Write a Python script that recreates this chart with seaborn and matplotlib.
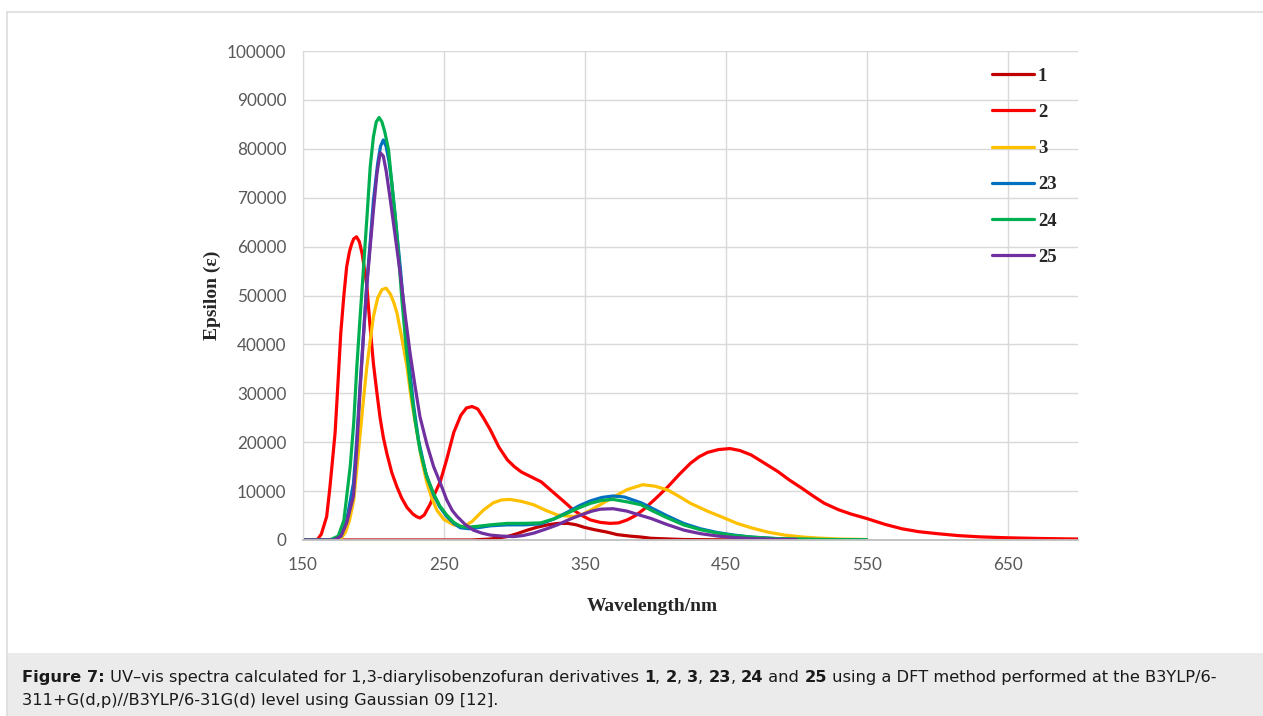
import matplotlib
matplotlib.use("Agg")
import matplotlib.pyplot as plt
import seaborn as sns
import pandas as pd
from matplotlib.patches import Rectangle
from matplotlib.lines import Line2D

# compound labels and colours
compounds = ["1", "2", "3", "23", "24", "25"]
colors = ["#C00000", "#FF0000", "#FFC000", "#0070C0", "#00B050", "#7030A0"]

# values (wavelength in nm, epsilon)
nm_1 = [150, 200, 250, 270, 283, 295, 302, 309, 316, 323.5, 331, 338, 344, 349.5,
        357, 366, 373, 382, 390, 397, 410, 420, 450, 500, 550]
eps_1 = [0, 0, 0, 0, 200, 700, 1300, 2000, 2600, 3100, 3400, 3400, 3100, 2600,
         2100, 1600, 1100, 800, 600, 350, 200, 100, 30, 0, 0]

nm_2 = [150, 160, 163, 166.8, 169, 171, 172.8, 174.8, 176.8, 179, 181, 183, 184.5,
        186, 188, 190, 192, 195.3, 197.5, 200, 202.5, 204.7, 207, 209.5, 213,
        216.6, 220, 223.7, 228, 230.5, 233, 236, 240, 244, 247.5, 252, 257, 262,
        266, 270, 274, 278, 283, 289, 295, 300, 305, 312, 319, 325, 331, 337, 342,
        348, 354, 361, 368, 374, 380, 386, 392, 400, 409, 417, 425, 431, 437, 445,
        453, 460, 468, 477, 487, 495, 504, 512, 520, 530, 539, 550, 563, 575, 587,
        600, 615, 630, 650, 675, 700]
eps_2 = [0, 0, 1200, 4800, 10500, 16500, 22000, 32000, 42300, 50000, 55900, 59000,
         60500, 61600, 62000, 61000, 58500, 52000, 44000, 36000, 30000, 25000,
         21000, 17700, 13800, 10900, 8600, 6700, 5300, 4800, 4500, 5100, 7200,
         9800, 12000, 16500, 22000, 25500, 27000, 27300, 26800, 25000, 22500,
         19000, 16400, 15000, 13900, 12900, 11900, 10400, 8900, 7400, 6100, 5000,
         4100, 3600, 3400, 3500, 4100, 5000, 6300, 8400, 10900, 13400, 15700,
         17000, 17900, 18500, 18700, 18300, 17400, 15800, 14000, 12300, 10600,
         9000, 7500, 6200, 5300, 4400, 3200, 2300, 1700, 1300, 900, 650, 450,
         300, 200]

nm_3 = [150, 176, 180, 183, 186, 188, 190.6, 193, 195.3, 198, 200, 203, 206, 209,
        212, 214.5, 216.7, 220, 223.8, 227, 231, 234.5, 238, 241.5, 245, 250,
        256.9, 264, 270, 278, 285, 291, 297, 305, 313.7, 322, 330.6, 342, 348,
        354, 362, 371, 380, 391, 400, 409, 417, 425, 437, 449, 458, 468, 480, 492,
        505, 515, 530, 550]
eps_3 = [0, 0, 1500, 4000, 8200, 14000, 21800, 29000, 35400, 41500, 45700, 49500,
         51200, 51500, 50300, 48500, 46400, 41500, 35400, 28500, 21800, 16000,
         11600, 8500, 6100, 4200, 3100, 2700, 3800, 6100, 7600, 8200, 8300, 7900,
         7200, 6100, 5100, 4800, 5200, 6100, 7400, 8900, 10300, 11300, 11000,
         10200, 8900, 7500, 5900, 4500, 3400, 2500, 1600, 1000, 600, 400, 200, 100]

nm_23 = [150, 172, 177, 181, 185.8, 188, 190.6, 193, 195.3, 198, 200, 203, 205,
         207, 209, 211, 213, 216, 219, 222, 225, 228.5, 232, 237, 242.7, 247, 252,
         257, 261.7, 268, 276, 283, 295, 307, 318.7, 328, 337.7, 346, 354, 362,
         370, 378, 390, 397, 408, 420, 432, 444.5, 456, 468, 485, 500, 525, 550]
eps_23 = [0, 0, 800, 4000, 11600, 20000, 32000, 42500, 52500, 62000, 69500, 77000,
          80500, 81800, 80500, 77500, 73000, 64500, 55900, 46000, 36800, 27500,
          20400, 13800, 9200, 6800, 4800, 3400, 2500, 2300, 2600, 2900, 3100,
          3100, 3300, 4300, 5700, 7000, 8000, 8700, 9000, 8800, 7600, 6600, 5000,
          3400, 2300, 1500, 1000, 600, 300, 150, 50, 0]

nm_24 = [150, 169, 175, 179, 183.5, 186, 188.2, 190.5, 193, 195.5, 197.7, 200,
         202, 204, 206, 208, 210.7, 213, 215.5, 218, 220.2, 223, 226, 229.5, 233,
         238, 242.7, 247, 252, 257, 261.7, 266.5, 274, 283, 295, 307, 318.7, 328,
         337.7, 346, 354, 362, 370, 380, 390, 397, 408, 420, 432, 444.5, 456, 468,
         485, 500, 525, 550]
eps_24 = [0, 0, 800, 4000, 15000, 24000, 35400, 45500, 55900, 66500, 76300, 82500,
          85500, 86400, 85500, 83500, 79800, 73000, 66100, 57500, 49100, 40000,
          32100, 24500, 18400, 12800, 9500, 7000, 5100, 3600, 2800, 2600, 2800,
          3100, 3400, 3400, 3500, 4300, 5500, 6600, 7500, 8100, 8300, 7800, 7200,
          6100, 4600, 3100, 2100, 1400, 900, 600, 300, 200, 100, 50]

nm_25 = [150, 172, 177, 181, 185.8, 188, 190.6, 193, 195.3, 198, 200, 202.5, 204.8,
         207, 209, 212, 215.5, 219, 222.5, 226, 229.5, 233, 238, 242.7, 247.5, 252,
         256, 259.4, 265, 271, 277, 283, 291, 299.5, 306, 313.7, 322, 330.6, 339,
         347, 355, 361, 370, 380, 390, 397, 408, 420.5, 432, 444.5, 456, 468, 485,
         500]
eps_25 = [0, 0, 800, 3500, 9000, 18000, 31000, 42000, 52000, 61000, 67500, 75000,
          79200, 78500, 75500, 69500, 62000, 54500, 46000, 38200, 31500, 25200,
          19500, 15000, 11600, 8200, 6000, 4800, 3200, 2000, 1400, 1000, 800, 700,
          900, 1400, 2200, 3100, 4200, 5100, 5900, 6300, 6400, 5900, 5000, 4400,
          3200, 2000, 1300, 800, 500, 300, 150, 100]

x_ticks = [150, 250, 350, 450, 550, 650]
y_ticks = [0, 10000, 20000, 30000, 40000, 50000, 60000, 70000, 80000, 90000, 100000]

series = {"1": (nm_1, eps_1), "2": (nm_2, eps_2), "3": (nm_3, eps_3),
          "23": (nm_23, eps_23), "24": (nm_24, eps_24), "25": (nm_25, eps_25)}
df = pd.concat([pd.DataFrame({"wavelength": x, "epsilon": y, "compound": k})
                for k, (x, y) in series.items()], ignore_index=True)

sns.set_style("whitegrid", {"grid.color": "#D9D9D9", "axes.edgecolor": "#D9D9D9"})
plt.rcParams["font.family"] = ["Lato", "DejaVu Sans"]

fig = plt.figure(figsize=(12.63, 7.16), dpi=100)
W, H = 1263, 716

# frame and caption box
fig.add_artist(Rectangle((7 / W, 0), 1 - 7 / W, 63 / H, transform=fig.transFigure,
                         facecolor="#EBEBEB", edgecolor="none", zorder=0))
fig.add_artist(Line2D([6.5 / W, 6.5 / W], [0, 1 - 11.5 / H], transform=fig.transFigure,
                      color="#DDDDDD", lw=1.2))
fig.add_artist(Line2D([6.5 / W, 1], [1 - 11.5 / H, 1 - 11.5 / H], transform=fig.transFigure,
                      color="#DDDDDD", lw=1.2))

ax = fig.add_axes([303 / W, 1 - 540 / H, 775 / W, 489 / H])
sns.lineplot(data=df, x="wavelength", y="epsilon", hue="compound", hue_order=compounds,
             palette=dict(zip(compounds, colors)), estimator=None, sort=False,
             linewidth=2.3, ax=ax)

ax.set_xlim(150, 700)
ax.set_ylim(0, 100000)
ax.set_xticks(x_ticks)
ax.set_yticks(y_ticks)
ax.set_xticklabels([str(v) for v in x_ticks])
ax.set_yticklabels([str(v) for v in y_ticks])
ax.tick_params(axis="y", length=0, pad=12, labelsize=12.3, labelcolor="#595959")
ax.tick_params(axis="x", length=0, pad=12, labelsize=12.3, labelcolor="#595959")
ax.grid(True, color="#D9D9D9", linewidth=1.0)
for side in ["top", "right"]:
    ax.spines[side].set_visible(False)
ax.spines["left"].set_color("#D9D9D9")
ax.spines["bottom"].set_color("#BFBFBF")
ax.spines["bottom"].set_linewidth(1.3)

serif_bold = dict(family="Liberation Serif", weight="bold", size=14)
ax.set_xlabel("Wavelength/nm", fontdict=serif_bold)
ax.set_ylabel("Epsilon (ε)", fontdict=serif_bold)
ax.xaxis.set_label_coords((652 - 303) / 775, -58 / 489)
ax.yaxis.set_label_coords((221 - 303) / 775, 0.5)

leg = ax.get_legend()
handles = leg.legend_handles
labels = [t.get_text() for t in leg.get_texts()]
ax.legend(handles, labels, loc="upper left", bbox_to_anchor=(992 / W, 1 - 67.5 / H),
          bbox_transform=fig.transFigure, frameon=False, borderpad=0, borderaxespad=0,
          handlelength=2.25, handletextpad=0.2, labelspacing=1.02,
          prop=dict(family="Liberation Serif", weight="bold", size=13.5))

# caption with bold parts
line1 = [("Figure 7:", "bold"),
         (" UV\u2013vis spectra calculated for 1,3-diarylisobenzofuran derivatives ", "normal"),
         ("1", "bold"), (", ", "normal"), ("2", "bold"), (", ", "normal"),
         ("3", "bold"), (", ", "normal"), ("23", "bold"), (", ", "normal"),
         ("24", "bold"), (" and ", "normal"), ("25", "bold"),
         (" using a DFT method performed at the B3YLP/6-", "normal")]
line2 = [("311+G(d,p)//B3YLP/6-31G(d) level using Gaussian 09 [12].", "normal")]

cap_font = dict(family="DejaVu Sans", size=11.7)
renderer = fig.canvas.get_renderer()


def text_width(s, weight):
    t1 = fig.text(0, 0, "|" + s + "|", weight=weight, **cap_font)
    t2 = fig.text(0, 0, "||", weight=weight, **cap_font)
    w = t1.get_window_extent(renderer).width - t2.get_window_extent(renderer).width
    t1.remove()
    t2.remove()
    return w


for pieces, ybase in [(line1, 682), (line2, 705)]:
    x = 22
    for s, weight in pieces:
        fig.text(x / W, 1 - ybase / H, s, weight=weight, ha="left", va="baseline",
                 color="#1A1A1A", **cap_font)
        x += text_width(s, weight)

fig.savefig("out.png", dpi=100)
